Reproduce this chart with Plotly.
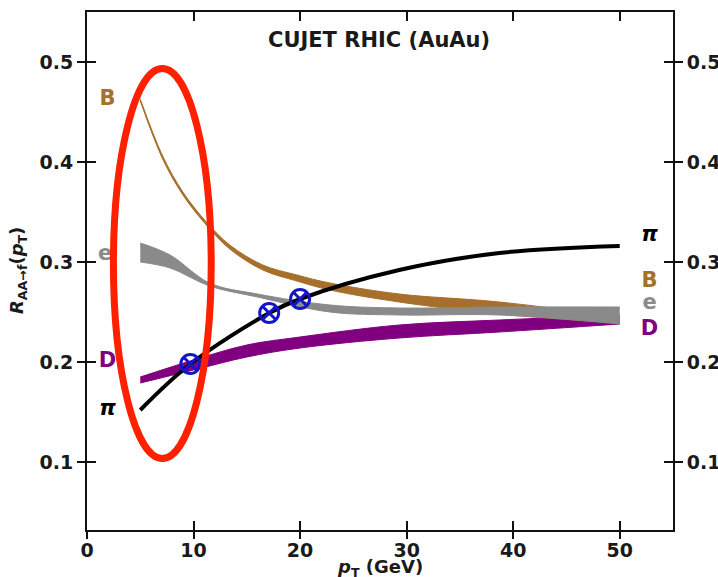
import plotly.graph_objects as go

# ---- data ----
pi_x = [5, 9.7, 17.1, 20, 29.3, 38.7, 50]
pi_y = [0.152, 0.198, 0.249, 0.263, 0.292, 0.309, 0.316]

B_x = [5, 7.1, 9.0, 11.2, 13.4, 16.5, 19.7, 22.8, 29.3, 38.7, 50]
B_up = [0.463, 0.406, 0.370, 0.340, 0.317, 0.297, 0.287, 0.279, 0.268, 0.260, 0.245]
B_lo = [0.461, 0.403, 0.367, 0.337, 0.313, 0.292, 0.281, 0.272, 0.260, 0.248, 0.239]

e_x = [5, 7.8, 11.5, 16, 22.8, 29.3, 38.7, 50]
e_up = [0.319, 0.307, 0.279, 0.268, 0.257, 0.254, 0.255, 0.255]
e_lo = [0.300, 0.294, 0.276, 0.265, 0.250, 0.247, 0.247, 0.238]

D_x = [5, 10, 15, 20, 29.3, 38.7, 50]
D_up = [0.185, 0.202, 0.217, 0.225, 0.237, 0.242, 0.247]
D_lo = [0.179, 0.192, 0.205, 0.214, 0.224, 0.230, 0.238]

mark_x = [9.7, 17.1, 20.0]
mark_y = [0.198, 0.249, 0.263]

label_text = ["B", "e", "D", "π"]
label_left_x = [1.92, 1.7, 1.92, 1.92]
label_left_y = [0.462, 0.307, 0.200, 0.152]
label_right_y = [0.280, 0.258, 0.232, 0.326]

x_ticks = [0, 10, 20, 30, 40, 50]
y_ticks = [0.1, 0.2, 0.3, 0.4, 0.5]
y_tick_text = ["0.1", "0.2", "0.3", "0.4", "0.5"]

C_B = "#A66F2C"
C_E = "#8A8A8A"
C_D = "#800080"
C_PI = "#000000"
colors = [C_B, C_E, C_D, C_PI]

FONT = "DejaVu Sans"
SMOOTH = 1.0

fig = go.Figure()


def band(x, up, lo, color):
    fig.add_trace(go.Scatter(
        x=x, y=lo, mode="lines",
        line=dict(color=color, width=1, shape="spline", smoothing=SMOOTH),
        hoverinfo="skip", showlegend=False))
    fig.add_trace(go.Scatter(
        x=x, y=up, mode="lines", fill="tonexty", fillcolor=color,
        line=dict(color=color, width=1, shape="spline", smoothing=SMOOTH),
        hoverinfo="skip", showlegend=False))


band(D_x, D_up, D_lo, C_D)
band(B_x, B_up, B_lo, C_B)
band(e_x, e_up, e_lo, C_E)

fig.add_trace(go.Scatter(x=pi_x, y=pi_y, mode="lines",
                         line=dict(color=C_PI, width=4, shape="spline", smoothing=SMOOTH),
                         showlegend=False))

fig.add_trace(go.Scatter(x=mark_x, y=mark_y, mode="markers",
                         marker=dict(symbol="circle-x-open", size=19,
                                     color="#1414C8", line=dict(width=3, color="#1414C8")),
                         showlegend=False))

# labels as text traces (so the red ellipse can overlap them)
for t, xl, yl, c in zip(label_text, label_left_x, label_left_y, colors):
    fig.add_trace(go.Scatter(x=[xl], y=[yl], mode="text", text=[t],
                             textfont=dict(family=FONT, size=21, color=c, weight="bold",
                                           style="italic" if t == "π" else "normal"),
                             showlegend=False, cliponaxis=False))
for t, yr, c in zip(label_text, label_right_y, colors):
    fig.add_trace(go.Scatter(x=[52.8], y=[yr], mode="text", text=[t],
                             textfont=dict(family=FONT, size=21, color=c, weight="bold",
                                           style="italic" if t == "π" else "normal"),
                             showlegend=False, cliponaxis=False))

# dummy traces for the extra tick axes
fig.add_trace(go.Scatter(x=[None], y=[None], xaxis="x2", yaxis="y2", showlegend=False))
fig.add_trace(go.Scatter(x=[None], y=[None], xaxis="x3", yaxis="y3", showlegend=False))

tickfont = dict(family=FONT, size=19, color="#1a1a1a", weight="bold")
titlefont = dict(family=FONT, size=18, color="#1a1a1a", weight="bold")
xr = [0, 55]
yr = [0.032, 0.55]
AX = "#111111"

common_x = dict(range=xr, tickvals=x_ticks, showgrid=False, zeroline=False,
                automargin=False, tickwidth=2, tickcolor=AX)
common_y = dict(range=yr, tickvals=y_ticks, showgrid=False, zeroline=False,
                automargin=False, tickwidth=2, tickcolor=AX)

fig.update_layout(
    width=718, height=577,
    margin=dict(l=87, r=45, t=12, b=47, autoexpand=False),
    paper_bgcolor="white", plot_bgcolor="white",
    xaxis=dict(**common_x, ticks="outside", ticklen=2, showline=True, linecolor=AX,
               linewidth=2, tickfont=tickfont),
    xaxis2=dict(**common_x, overlaying="x", side="bottom", ticks="inside", ticklen=9,
                mirror="ticks", showline=True, linecolor=AX, linewidth=2,
                showticklabels=False),
    xaxis3=dict(**common_x, overlaying="x", side="bottom", ticks="outside", ticklen=8,
                showticklabels=False, showline=False),
    yaxis=dict(**common_y, ticktext=y_tick_text, ticks="outside", ticklen=8,
               showline=True, linecolor=AX, linewidth=2, tickfont=tickfont),
    yaxis2=dict(**common_y, ticktext=y_tick_text, overlaying="y", side="right",
                ticks="outside", ticklen=8, showline=True, linecolor=AX, linewidth=2,
                tickfont=tickfont),
    yaxis3=dict(**common_y, overlaying="y", side="left", ticks="inside", ticklen=9,
                mirror="ticks", showticklabels=False, showline=False),
    annotations=[
        dict(x=27.4, y=0.522, xref="x", yref="y", text="CUJET RHIC (AuAu)",
             showarrow=False, font=dict(family=FONT, size=21, color="#1a1a1a", weight="bold")),
        dict(x=0.5, y=0, xref="paper", yref="paper", yshift=-38, yanchor="middle",
             text="<i>p</i><sub>T</sub> (GeV)", showarrow=False, font=titlefont),
        dict(x=0, y=0.5, xref="paper", yref="paper", xshift=-69, xanchor="center",
             yanchor="middle", textangle=-90,
             text="<i>R</i><sub>AA→f</sub>(<i>p</i><sub>T</sub>)", showarrow=False,
             font=dict(family=FONT, size=18, color="#1a1a1a", weight="bold")),
    ],
    shapes=[dict(type="circle", xref="x", yref="y", x0=2.48, x1=11.66, y0=0.1035, y1=0.4935,
                 line=dict(color="#FF2000", width=7), layer="above")],
)

fig.write_html("out.html", config={"displayModeBar": False},
               post_script="document.body.style.margin='0px';document.body.style.overflow='hidden';")
